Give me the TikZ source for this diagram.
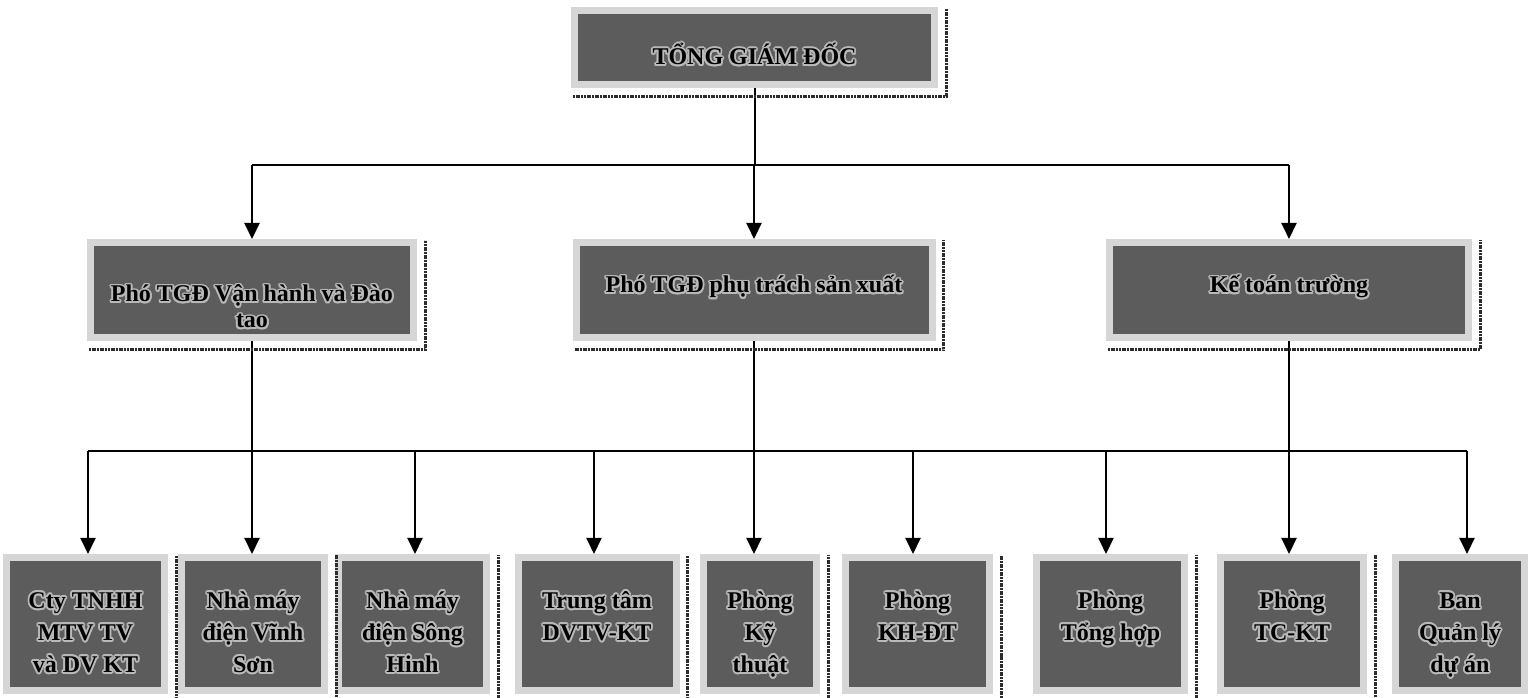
\documentclass[tikz,border=0pt]{standalone}
\usepackage{fontspec}
\setmainfont{Liberation Serif}
\usepackage{contour}
\contourlength{1.8pt}
\contournumber{16}
\usetikzlibrary{arrows.meta,backgrounds}
\definecolor{boxdark}{RGB}{92,92,92}
\definecolor{boxlight}{RGB}{214,214,214}
\definecolor{shadowc}{RGB}{45,45,45}
\definecolor{glowc}{RGB}{185,185,185}
\newcommand\gl[1]{\contour{glowc}{#1}}
\newcommand\bxt[4]{\begin{minipage}[c][#1bp][t]{#2bp}\centering\vspace*{#3bp}#4\end{minipage}}
\begin{document}
\begin{tikzpicture}[x=1bp,y=1bp,
  box/.style={draw=boxlight,line width=7bp,fill=boxdark,inner sep=0pt,text=black},
  topfont/.style={font=\bfseries\fontsize{24bp}{28bp}\selectfont},
  midfont/.style={font=\bfseries\fontsize{24bp}{26bp}\selectfont},
  lowfont/.style={font=\bfseries\fontsize{24bp}{32bp}\selectfont},
  lin/.style={line width=2bp,draw=black},
  arr/.style={line width=2bp,draw=black,-{Triangle[length=16bp,width=15bp]}},
  shad/.style={line width=3bp,draw=shadowc,dash pattern=on 2bp off 0.7bp}]
\useasboundingbox (0,0) rectangle (1528,698);

% top
\node[box,topfont] (top) at (754.5,650.5) {\bxt{74}{360}{32.9}{\strut\gl{TỔNG GIÁM ĐỐC}}};

% middle row
\node[box,midfont] (m1) at (252,408) {\bxt{95}{323}{41.3}{\strut\gl{Phó TGĐ Vận hành và Đào}\\\gl{tao}}};
\node[box,midfont] (m2) at (754,408) {\bxt{95}{356}{32.3}{\strut\gl{Phó TGĐ phụ trách sản xuất}}};
\node[box,midfont] (m3) at (1289,408) {\bxt{95}{359}{32.3}{\strut\gl{Kế toán trường}}};

% bottom row
\node[box,lowfont] (b1) at (85.5,74) {\bxt{133}{158}{28.6}{\strut\gl{Cty TNHH}\\\gl{MTV TV}\\\gl{và DV KT}}};
\node[box,lowfont] (b2) at (253,74) {\bxt{133}{143}{28.6}{\strut\gl{Nhà máy}\\\gl{điện Vĩnh}\\\gl{Sơn}}};
\node[box,lowfont] (b3) at (412.5,74) {\bxt{133}{148}{28.6}{\strut\gl{Nhà máy}\\\gl{điện Sông}\\\gl{Hinh}}};
\node[box,lowfont] (b4) at (597,74) {\bxt{133}{158}{28.6}{\strut\gl{Trung tâm}\\\gl{DVTV-KT}}};
\node[box,lowfont] (b5) at (760,74) {\bxt{133}{113}{28.6}{\strut\gl{Phòng}\\\gl{Kỹ}\\\gl{thuật}}};
\node[box,lowfont] (b6) at (917.5,74) {\bxt{133}{144}{28.6}{\strut\gl{Phòng}\\\gl{KH-ĐT}}};
\node[box,lowfont] (b7) at (1110.5,74) {\bxt{133}{148}{28.6}{\strut\gl{Phòng}\\\gl{Tổng hợp}}};
\node[box,lowfont] (b8) at (1292,74) {\bxt{133}{143}{28.6}{\strut\gl{Phòng}\\\gl{TC-KT}}};
\node[box,lowfont] (b9) at (1460,74) {\bxt{133}{129}{28.6}{\strut\gl{Ban}\\\gl{Quản lý}\\\gl{dự án}}};

% shadows
\foreach \n in {top,m1,m2,m3,b1,b2,b3,b4,b5,b6,b7,b8,b9}
  \draw[shad] ([xshift=2bp,yshift=-9bp]\n.south west) -| ([xshift=8bp,yshift=-1.5bp]\n.north east);

\begin{scope}[on background layer]
  \fill[white] (0,0) rectangle (1528,698);
  \coordinate (busT) at (0,533);
  \draw[lin] (top.south) -- (top.south |- busT);
  \draw[lin] (m1.north |- busT) -- (m3.north |- busT);
  \foreach \m in {m1,m2,m3} \draw[arr] (\m.north |- busT) -- (\m.north);

  \coordinate (d1) at (88,247);
  \coordinate (d3) at (415,247);
  \coordinate (d4) at (594,247);
  \coordinate (d6) at (913,247);
  \coordinate (d7) at (1106,247);
  \coordinate (d9) at (1467,247);
  \draw[lin] (d1) -- (d9);
  \draw[arr] (m1.south) -- (m1.south |- b2.north);
  \draw[arr] (m2.south) -- (m2.south |- b5.north);
  \draw[arr] (m3.south) -- (m3.south |- b8.north);
  \foreach \d/\b in {d1/b1,d3/b3,d4/b4,d6/b6,d7/b7,d9/b9}
    \draw[arr] (\d) -- (\d |- \b.north);
\end{scope}
\end{tikzpicture}
\end{document}
